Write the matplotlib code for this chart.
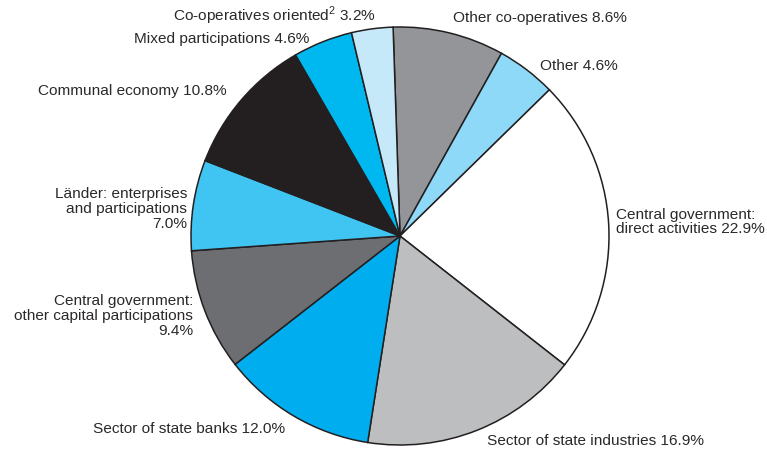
import matplotlib.pyplot as plt

plt.rcParams['font.family'] = ['Liberation Sans', 'DejaVu Sans']
plt.rcParams['mathtext.fontset'] = 'custom'
plt.rcParams['mathtext.rm'] = 'Liberation Sans'

# shares of the public sector, clockwise from the top
sectors = ['Other co-operatives', 'Other', 'Central government:\ndirect activities',
           'Sector of state industries', 'Sector of state banks',
           'Central government:\nother capital participations',
           'Länder: enterprises\nand participations', 'Communal economy',
           'Mixed participations', r'Co-operatives oriented$^{\mathrm{2}}$']
shares = [8.6, 4.6, 22.9, 16.9, 12.0, 9.4, 7.0, 10.8, 4.6, 3.2]
colors = ['#939598', '#8ed8f8', '#ffffff', '#bcbec0', '#00aeef',
          '#6d6e71', '#40c4f1', '#231f20', '#00b8f0', '#c6e9f9']

# label placement in pixels: (x, y, ha, joiner between name and value)
label_pos = [(453, 18, 'left', ' '), (540, 66, 'left', ' '), (616, 222, 'left', ' '),
             (487, 441, 'left', ' '), (93, 429, 'left', ' '), (193, 316, 'right', '\n'),
             (187, 209, 'right', '\n'), (38, 91, 'left', ' '), (134, 39, 'left', ' '),
             (173, 16, 'left', ' ')]

W, H = 767, 452
cx, cy, R = 400, 237, 209

def px(x, y):
    return (x - cx) / R, (cy - y) / R

fig = plt.figure(figsize=(W / 100, H / 100), dpi=100)
ax = fig.add_axes([0, 0, 1, 1])
ax.pie(shares, colors=colors, startangle=91.9, counterclock=False, radius=1,
       wedgeprops=dict(edgecolor='#231f20', linewidth=1.1))

for name, val, (x, y, ha, sep) in zip(sectors, shares, label_pos):
    tx, ty = px(x, y)
    ax.text(tx, ty, '%s%s%.1f%%' % (name, sep, val), ha=ha, va='center',
            fontsize=11.1, color='#2b2829', linespacing=1.08, multialignment=ha)

ax.set_xlim(-cx / R, (W - cx) / R)
ax.set_ylim(-(H - cy) / R, cy / R)
ax.set_aspect('auto')
ax.axis('off')
fig.savefig('out.png', dpi=100)
